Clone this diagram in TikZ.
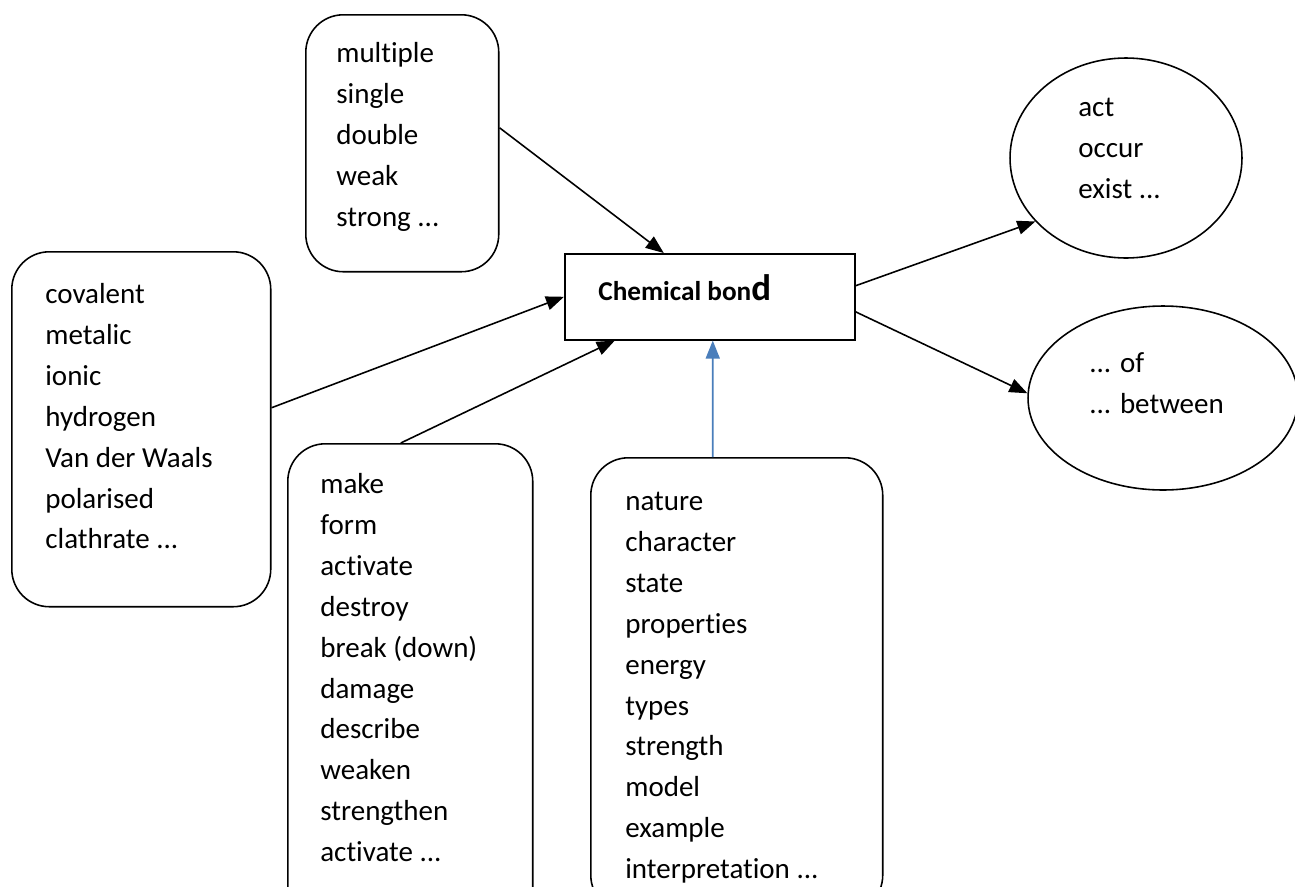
\documentclass[tikz,border=0pt]{standalone}
\usepackage{fontspec}
\setmainfont[Ligatures={NoCommon}]{Carlito}
\usetikzlibrary{arrows.meta}
\definecolor{linkblue}{HTML}{4A7EBB}
\tikzset{
  roundbox/.style={draw, line width=0.9pt, rounded corners=0.75cm, anchor=north west, inner sep=0pt},
  centerbox/.style={draw, line width=0.9pt, anchor=north west, inner sep=0pt, minimum width=5.8cm, minimum height=1.72cm},
  oval/.style={draw, line width=0.9pt, ellipse, inner sep=0pt},
  wordlist/.style={anchor=north west, inner sep=0pt, align=left, font=\fontsize{16.5}{23.3}\selectfont},
  link/.style={line width=0.9pt, -{Triangle[length=0.36cm,width=0.28cm]}},
}
\usetikzlibrary{shapes.geometric}
\newcommand{\firstline}{\rule{0pt}{0.5cm}}
\begin{document}
\begin{tikzpicture}[x=0.02cm, y=-0.02cm]
\useasboundingbox (0,0) rectangle (1295,886);
\clip (0,0) rectangle (1295,886);
\fill[white] (0,0) rectangle (1295,886);

% boxes
\node[roundbox, minimum width=3.86cm, minimum height=5.14cm] (topbox) at (305,14) {};
\node[roundbox, minimum width=5.18cm, minimum height=7.1cm] (leftbox) at (11,251) {};
\node[roundbox, minimum width=4.9cm, minimum height=10cm] (makebox) at (287,443) {};
\node[roundbox, minimum width=5.84cm, minimum height=9.1cm] (natbox) at (590,457) {};
\node[centerbox] (cb) at (564,253) {};
\node[oval, minimum width=4.64cm, minimum height=4.0cm] (e1) at (1126,158) {};
\node[oval, minimum width=5.4cm, minimum height=3.68cm] (e2) at (1163,398) {};

% texts
\node[wordlist] (toptext) at (336,37) {\firstline multiple\\single\\double\\weak\\strong ...};
\node[wordlist] (lefttext) at (45,278) {\firstline covalent\\metalic\\ionic\\hydrogen\\Van der Waals\\polarised\\clathrate ...};
\node[wordlist] (maketext) at (320,468) {\firstline make\\form\\activate\\destroy\\break (down)\\damage\\describe\\weaken\\strengthen\\activate ...};
\node[wordlist] (nattext) at (625,485) {\firstline nature\\character\\state\\properties\\energy\\types\\strength\\model\\example\\interpretation ...};
\node[wordlist] (e1text) at (1078,91) {\firstline act\\occur\\exist ...};
\node[wordlist] (e2text) at (1089,347) {\firstline ... of\\... between};
\node[anchor=base west, inner sep=0pt] (cbtext) at (598,300)
  {{\fontsize{15.5}{18}\selectfont\bfseries Chemical bon}{\fontsize{21}{24}\selectfont\bfseries d}};

% connectors
\draw[link] ([yshift=0.31cm]topbox.east) -- ([xshift=-0.92cm]cb.north);
\draw[link] ([yshift=0.43cm]leftbox.east) -- (cb.west);
\draw[link] ([xshift=-0.19cm]makebox.north) -- ([xshift=-1.9cm]cb.south);
\draw[link, linkblue] ([xshift=-0.48cm]natbox.north) -- ([xshift=0.06cm]cb.south);
\draw[link] ([yshift=0.22cm]cb.east) -- (e1.215);
\draw[link] ([yshift=-0.3cm]cb.east) -- (e2.178);
\end{tikzpicture}
\end{document}
